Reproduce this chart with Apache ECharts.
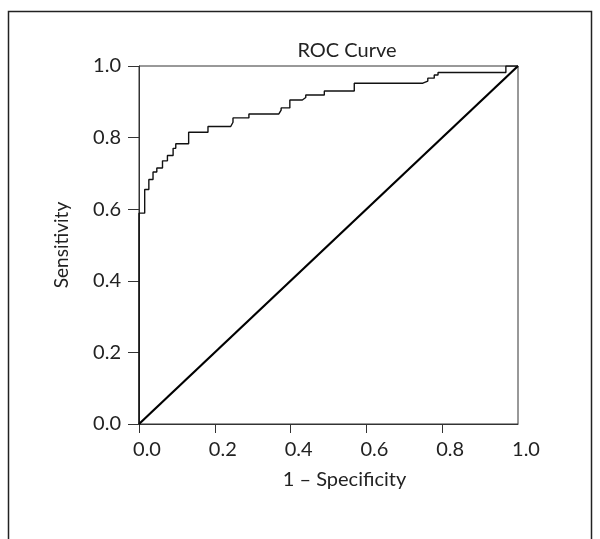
<!DOCTYPE html>
<html>
<head>
<meta charset="utf-8">
<script src="https://cdn.jsdelivr.net/npm/echarts@6/dist/echarts.min.js"></script>
<style>
html,body{margin:0;padding:0;background:#fff;}
#chart{width:600px;height:539px;}
</style>
</head>
<body>
<div id="chart"></div>
<script>
// ROC step curve points: [1 - specificity, sensitivity]
var rocX = [0, 0, 0.015, 0.015, 0.026, 0.026, 0.037, 0.037, 0.047, 0.047, 0.062, 0.062, 0.075, 0.075, 0.090, 0.090, 0.097, 0.097, 0.131, 0.131, 0.182, 0.182, 0.242, 0.248, 0.248, 0.290, 0.290, 0.369, 0.375, 0.375, 0.398, 0.398, 0.431, 0.440, 0.440, 0.489, 0.489, 0.568, 0.568, 0.749, 0.762, 0.762, 0.779, 0.779, 0.789, 0.789, 0.968, 0.968, 1.0];
var rocY = [0, 0.589, 0.589, 0.655, 0.655, 0.683, 0.683, 0.704, 0.704, 0.715, 0.715, 0.735, 0.735, 0.750, 0.750, 0.770, 0.770, 0.783, 0.783, 0.815, 0.815, 0.831, 0.831, 0.843, 0.855, 0.855, 0.866, 0.866, 0.877, 0.883, 0.883, 0.905, 0.905, 0.912, 0.919, 0.919, 0.930, 0.930, 0.952, 0.952, 0.958, 0.966, 0.966, 0.975, 0.975, 0.982, 0.982, 1.0, 1.0];
var diagX = [0, 1];
var diagY = [0, 1];
var xTicks = [0, 0.2, 0.4, 0.6, 0.8];
var xLabels = [0, 0.2, 0.4, 0.6, 0.8, 1.0];
var yTicks = [0, 0.2, 0.4, 0.6, 0.8, 1.0];
var titleText = 'ROC Curve';
var xName = '1 \u2013 Specificity';
var yName = 'Sensitivity';

var FONT = 'Lato';
var rocData = rocX.map(function (x, i) { return [x, rocY[i]]; });
var diagData = diagX.map(function (x, i) { return [x, diagY[i]]; });

var chart = echarts.init(document.getElementById('chart'), null, {renderer: 'canvas'});
chart.setOption({
  animation: false,
  backgroundColor: '#fff',
  title: {
    text: titleText,
    left: 342, top: 36,
    textAlign: 'center',
    textStyle: {fontFamily: FONT, fontSize: 20, fontWeight: 'normal', color: '#222'}
  },
  graphic: [{
    type: 'rect',
    shape: {x: 8.5, y: 11.5, width: 583, height: 600},
    style: {fill: 'none', stroke: '#222', lineWidth: 1.5},
    z: 100
  }],
  grid: {
    left: 139, top: 66, width: 379, height: 358,
    show: true, borderColor: '#333', borderWidth: 1, backgroundColor: 'transparent'
  },
  xAxis: {
    type: 'value', min: 0, max: 1, interval: 0.2,
    name: xName, nameLocation: 'middle', nameGap: 46,
    nameTextStyle: {fontFamily: FONT, fontSize: 20, color: '#222', padding: [0, 0, 0, 32]},
    axisLine: {show: true, lineStyle: {color: '#333', width: 1}},
    axisTick: {show: true, length: 9, lineStyle: {color: '#333'}, customValues: xTicks},
    axisLabel: {
      fontFamily: FONT, fontSize: 20, color: '#222', margin: 16, padding: [0, 0, 0, 16],
      customValues: xLabels,
      formatter: function (v) { return v.toFixed(1); }
    },
    splitLine: {show: false}
  },
  yAxis: {
    type: 'value', min: 0, max: 1, interval: 0.2,
    name: yName, nameLocation: 'middle', nameGap: 68,
    nameTextStyle: {fontFamily: FONT, fontSize: 19, color: '#222'},
    axisLine: {show: true, lineStyle: {color: '#333', width: 1}},
    axisTick: {show: true, length: 11, lineStyle: {color: '#333'}, customValues: yTicks},
    axisLabel: {
      fontFamily: FONT, fontSize: 20, color: '#222', margin: 18,
      customValues: yTicks,
      formatter: function (v) { return v.toFixed(1); }
    },
    splitLine: {show: false}
  },
  series: [{
    type: 'line', data: diagData, symbol: 'none',
    lineStyle: {color: '#000', width: 2.2}, z: 3
  }, {
    type: 'line', data: rocData, symbol: 'none',
    lineStyle: {color: '#111', width: 1.4}, z: 4
  }]
});
</script>
</body>
</html>
